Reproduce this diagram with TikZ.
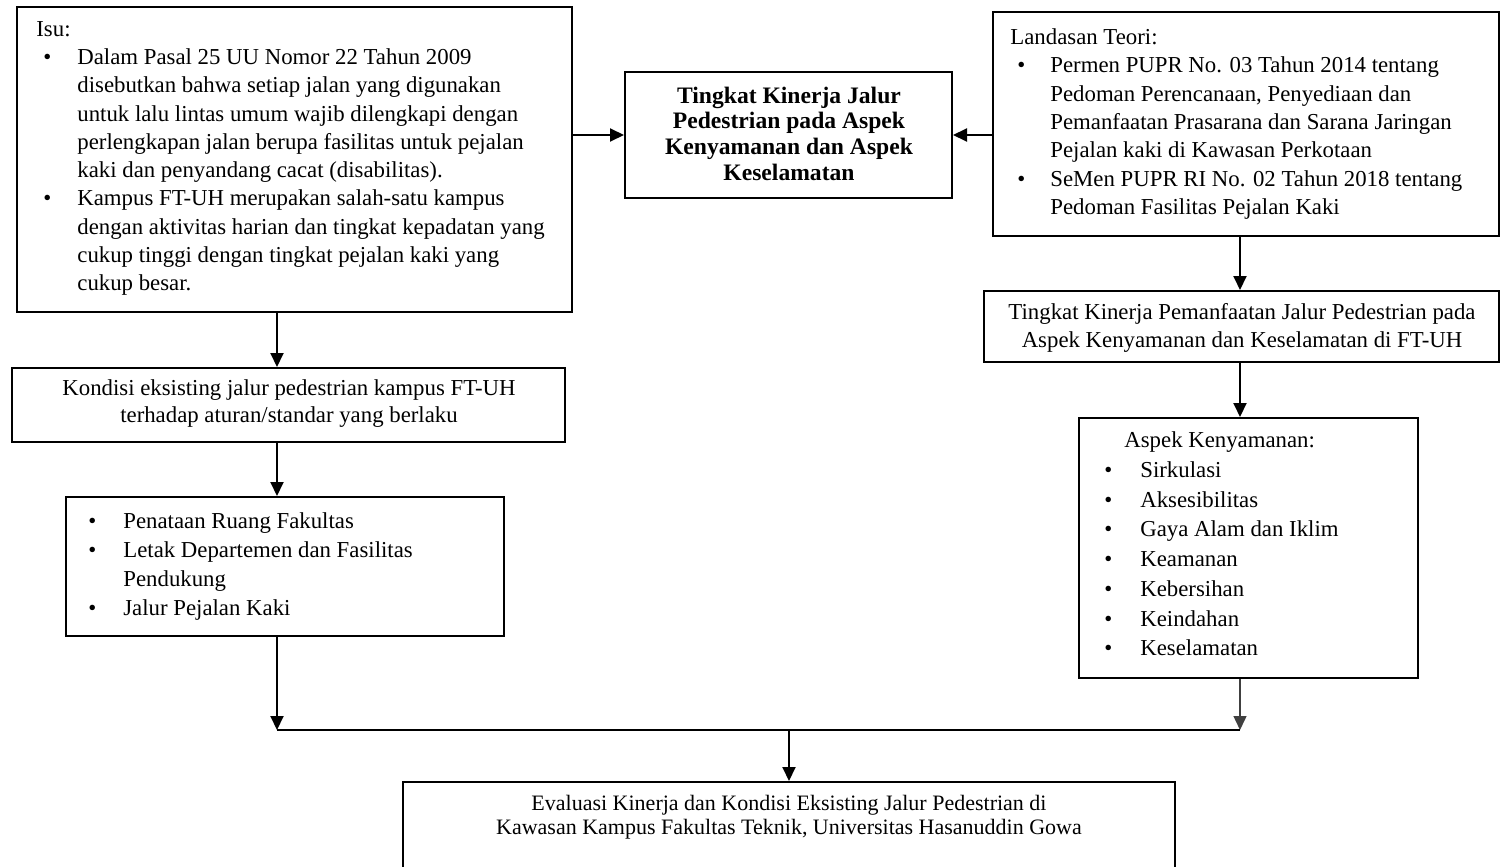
\documentclass[tikz,border=0pt]{standalone}
\usepackage{fontspec}
\setmainfont{Liberation Serif}
\usetikzlibrary{arrows.meta}
\newcommand\bul[2]{\hspace*{#1}\makebox[#2][l]{\textbullet}}
\begin{document}
\begin{tikzpicture}[x=0.5pt,y=-0.5pt,
  box/.style={draw, line width=1pt, inner sep=0pt},
  txt/.style={inner sep=0pt, align=left, anchor=west},
  ctxt/.style={inner sep=0pt, align=center, anchor=center},
  conn/.style={line width=1pt, -{Triangle[length=7pt,width=6.5pt]}},
  joinline/.style={line width=1pt}]
\clip (0,0) rectangle (1501,867);
\fill[white] (0,0) rectangle (1501,867);

% boxes
\node[box, minimum width=277.5pt, minimum height=152.5pt] (isu) at (294.5,159.5) {};
\node[box, minimum width=163.5pt, minimum height=63pt] (cen) at (788.5,135) {};
\node[box, minimum width=253pt, minimum height=112pt] (land) at (1246,124) {};
\node[box, minimum width=276.5pt, minimum height=37pt] (kond) at (288.5,405) {};
\node[box, minimum width=219pt, minimum height=69.5pt] (bul) at (285,566.5) {};
\node[box, minimum width=257.5pt, minimum height=35.5pt] (ting) at (1241.5,326.5) {};
\node[box, minimum width=169.5pt, minimum height=130pt] (asp) at (1248.5,548) {};
\node[box, minimum width=386pt, minimum height=59pt] (eval) at (789,841) {};

% texts
\node[txt, font=\fontsize{11.4}{14.15}\selectfont] (isutxt) at (36,158.5) {%
Isu:\\
\bul{3.5pt}{17pt}Dalam Pasal 25 UU Nomor 22 Tahun 2009\\
\hspace*{20.5pt}disebutkan bahwa setiap jalan yang digunakan\\
\hspace*{20.5pt}untuk lalu lintas umum wajib dilengkapi dengan\\
\hspace*{20.5pt}perlengkapan jalan berupa fasilitas untuk pejalan\\
\hspace*{20.5pt}kaki dan penyandang cacat (disabilitas).\\
\bul{3.5pt}{17pt}Kampus FT-UH merupakan salah-satu kampus\\
\hspace*{20.5pt}dengan aktivitas harian dan tingkat kepadatan yang\\
\hspace*{20.5pt}cukup tinggi dengan tingkat pejalan kaki yang\\
\hspace*{20.5pt}cukup besar.};

\node[ctxt, font=\fontsize{11.8}{12.85}\selectfont\bfseries] (centxt) at (789,133.5) {%
Tingkat Kinerja Jalur\\Pedestrian pada Aspek\\Kenyamanan dan Aspek\\Keselamatan};

\node[txt, font=\fontsize{11.4}{14.15}\selectfont] (landtxt) at (1010,124) {%
Landasan Teori:\\
\bul{3.5pt}{16.5pt}Permen PUPR No. 03 Tahun 2014 tentang\\
\hspace*{20pt}Pedoman Perencanaan, Penyediaan dan\\
\hspace*{20pt}Pemanfaatan Prasarana dan Sarana Jaringan\\
\hspace*{20pt}Pejalan kaki di Kawasan Perkotaan\\
\bul{3.5pt}{16.5pt}SeMen PUPR RI No. 02 Tahun 2018 tentang\\
\hspace*{20pt}Pedoman Fasilitas Pejalan Kaki};

\node[ctxt, font=\fontsize{11.4}{13.5}\selectfont] (kondtxt) at (289,403.5) {%
Kondisi eksisting jalur pedestrian kampus FT-UH\\terhadap aturan/standar yang berlaku};

\node[txt, font=\fontsize{11.4}{14.5}\selectfont] (bultxt) at (88,566.5) {%
\bul{0pt}{17.5pt}Penataan Ruang Fakultas\\
\bul{0pt}{17.5pt}Letak Departemen dan Fasilitas\\
\hspace*{17.5pt}Pendukung\\
\bul{0pt}{17.5pt}Jalur Pejalan Kaki};

\node[ctxt, font=\fontsize{11.4}{14}\selectfont] (tingtxt) at (1242,328) {%
Tingkat Kinerja Pemanfaatan Jalur Pedestrian pada\\Aspek Kenyamanan dan Keselamatan di FT-UH};

\node[txt, font=\fontsize{11.4}{14.85}\selectfont] (asptxt) at (1104,544) {%
\hspace*{10pt}Aspek Kenyamanan:\\
\bul{0pt}{18pt}Sirkulasi\\
\bul{0pt}{18pt}Aksesibilitas\\
\bul{0pt}{18pt}Gaya Alam dan Iklim\\
\bul{0pt}{18pt}Keamanan\\
\bul{0pt}{18pt}Kebersihan\\
\bul{0pt}{18pt}Keindahan\\
\bul{0pt}{18pt}Keselamatan};

\node[ctxt, font=\fontsize{11}{12}\selectfont] (evaltxt) at (789,817) {%
Evaluasi Kinerja dan Kondisi Eksisting Jalur Pedestrian di\\
Kawasan Kampus Fakultas Teknik, Universitas Hasanuddin Gowa};

% connectors
\coordinate (cl) at (277,0);
\coordinate (cr) at (1240,0);
\coordinate (jl) at (277,730);
\coordinate (jr) at (1240,730);
\coordinate (jm) at (789,730);
\draw[conn] (isu.east |- cen.west) -- (cen.west);
\draw[conn] (land.west |- cen.east) -- (cen.east);
\draw[conn] (isu.south -| cl) -- (kond.north -| cl);
\draw[conn] (kond.south -| cl) -- (bul.north -| cl);
\draw[conn] (land.south -| cr) -- (ting.north -| cr);
\draw[conn] (ting.south -| cr) -- (asp.north -| cr);
\draw[conn] (bul.south -| jl) -- (jl);
\draw[conn, line width=0.7pt, draw=black!75] (asp.south -| jr) -- (jr);
\draw[joinline] (jl) -- (jr);
\draw[conn] (jm) -- (eval.north -| jm);
\end{tikzpicture}
\end{document}
